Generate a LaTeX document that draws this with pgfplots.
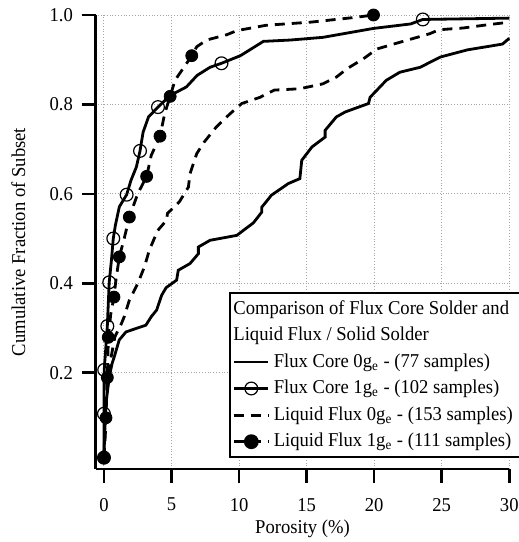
\documentclass[border=0pt]{standalone}
\usepackage{fontspec}
\setmainfont{Liberation Serif}[FakeStretch=0.95]
\usepackage{pgfplots}
\pgfplotsset{compat=1.18}
\begin{document}
\begin{tikzpicture}
\begin{axis}[
  scale only axis, width=206.8pt, height=227pt,
  xmin=-0.61, xmax=30, ymin=-0.0156, ymax=1.0,
  axis lines*=left,
  axis line style={line width=1.3pt, -},
  xtick={0,5,...,30}, ytick={0.2,0.4,0.6,0.8,1.0},
  tick align=outside, major tick length=7pt,
  tick style={line width=1.3pt, black},
  grid=major, grid style={densely dotted, black!35, line width=0.5pt},
  yticklabel style={xshift=-0.9pt, /pgf/number format/.cd, fixed, fixed zerofill, precision=1},
  /pgf/number format/assume math mode=true,
  ticklabel style={font=\fontsize{9.8}{11.8}\selectfont},
  xticklabel style={yshift=-4pt},
  label style={font=\fontsize{9.8}{11.8}\selectfont},
  xlabel={Porosity (\%)},
  ylabel={Cumulative Fraction of Subset},
  xlabel style={at={(axis description cs:0.5,-0.132)}, anchor=center},
  ylabel style={at={(axis description cs:-0.187,0.5)}, anchor=center},
  clip=false,
  legend style={at={(rel axis cs:1,0)}, anchor=south east, xshift=5.85pt, yshift=5.4pt,
    draw=black, line width=1.2pt, row sep=1pt,
    font=\fontsize{9.8}{11.8}\selectfont, inner sep=1.5pt},
  legend cell align=left,
]
% Flux Core 0g_e
\addplot[forget plot, black, line width=1.4pt] coordinates {
(0.0,0.013) (0.1,0.1) (0.15,0.13) (0.39,0.19) (0.6,0.22) (0.76,0.235) (1.13,0.273) (1.63,0.291) (2.5,0.30) (3.1,0.306) (3.5,0.325) (3.9,0.34) (4.27,0.373) (4.6,0.39) (5.38,0.407) (5.5,0.429) (6.37,0.444) (6.99,0.466) (6.99,0.481) (7.85,0.496) (9.83,0.507) (11.06,0.535) (11.68,0.559) (11.68,0.57) (12.4,0.597) (13.65,0.623) (14.5,0.634) (14.64,0.675) (15.4,0.705) (16.37,0.727) (16.37,0.742) (17.2,0.772) (17.85,0.783) (19.58,0.802) (19.7,0.816) (20.9,0.854) (21.9,0.872) (23.4,0.883) (24.9,0.906) (26.9,0.922) (29.5,0.935) (30,0.948)
};
% Flux Core 1g_e line
\addplot[forget plot, black, line width=1.4pt] coordinates {
(0,0.01) (0,0.108) (0.02,0.206) (0.15,0.26) (0.25,0.304) (0.39,0.402) (0.55,0.45) (0.69,0.5) (0.85,0.53) (1.14,0.571) (1.68,0.598) (2.0,0.63) (2.4,0.66) (2.67,0.696) (2.9,0.738) (3.3,0.772) (4.0,0.794) (4.9,0.82) (6.1,0.839) (6.9,0.865) (7.85,0.883) (8.7,0.892) (10.1,0.909) (11.8,0.941) (13.8,0.944) (16.2,0.95) (19.95,0.97) (22.7,0.98) (23.6,0.99) (30,0.993)
};
\addplot[forget plot, only marks, mark=o, mark size=3.2pt, mark options={line width=0.6pt}] coordinates {
(0,0.0098) (0,0.108) (0.02,0.206) (0.25,0.304) (0.39,0.402) (0.69,0.5) (1.68,0.598) (2.67,0.696) (4.0,0.794) (8.7,0.892) (23.6,0.99)
};
% Liquid Flux 0g_e
\addplot[forget plot, black, line width=1.4pt, dash pattern=on 5pt off 3.5pt] coordinates {
(0,0.0065) (0.07,0.065) (0.2,0.146) (0.44,0.22) (0.81,0.28) (1.3,0.31) (1.5,0.325) (1.88,0.362) (2.5,0.399) (2.99,0.436) (3.36,0.474) (3.98,0.518) (4.64,0.541) (4.7,0.556) (5.58,0.582) (6.25,0.615) (6.37,0.645) (6.87,0.69) (7.4,0.715) (8.3,0.749) (9.33,0.779) (10.2,0.802) (11.56,0.816) (12.6,0.832) (14.5,0.835) (16.2,0.846) (17.2,0.861) (18.0,0.88) (19.2,0.902) (20.2,0.924) (21.9,0.939) (24.1,0.958) (24.8,0.967) (26.6,0.971) (28.1,0.977) (30,0.984)
};
% Liquid Flux 1g_e
\addplot[forget plot, black, line width=1.4pt, dash pattern=on 5pt off 3.5pt] coordinates {
(0,0.009) (0.1,0.06) (0.15,0.099) (0.2,0.15) (0.25,0.189) (0.3,0.24) (0.32,0.279) (0.5,0.33) (0.74,0.369) (0.9,0.41) (1.14,0.459) (1.5,0.5) (1.88,0.548) (2.5,0.6) (3.16,0.639) (3.5,0.686) (4.15,0.729) (4.5,0.78) (4.9,0.818) (5.26,0.854) (6.1,0.891) (6.5,0.909) (6.87,0.929) (7.6,0.944) (9.1,0.956) (9.83,0.965) (12.0,0.977) (15.3,0.984) (18.7,0.995) (19.95,1.0)
};
\addplot[forget plot, only marks, mark=*, mark size=3pt, mark options={black}] coordinates {
(0,0.009) (0.15,0.099) (0.25,0.189) (0.32,0.279) (0.74,0.369) (1.14,0.459) (1.88,0.548) (3.16,0.639) (4.15,0.729) (4.9,0.818) (6.5,0.909) (19.95,1.0)
};
\addlegendimage{empty legend}
\addlegendentry{\hspace{-20.2pt}Comparison of Flux Core Solder and}
\addlegendimage{empty legend}
\addlegendentry{\hspace{-20.2pt}Liquid Flux / Solid Solder}
\addlegendimage{black, line width=1.4pt}
\addlegendentry{Flux Core 0g\textsubscript{e} - (77 samples)}
\addlegendimage{black, line width=1.4pt, mark=o, mark size=3.2pt, mark options={line width=0.6pt}}
\addlegendentry{Flux Core 1g\textsubscript{e} - (102 samples)}
\addlegendimage{black, line width=1.4pt, dash pattern=on 5pt off 3.5pt}
\addlegendentry{Liquid Flux 0g\textsubscript{e} - (153 samples)}
\addlegendimage{black, line width=1.4pt, dash pattern=on 5pt off 3.5pt, mark=*, mark size=3pt, mark options={solid}}
\addlegendentry{Liquid Flux 1g\textsubscript{e} - (111 samples)}
\end{axis}
\pgfresetboundingbox
\path (current axis.south west) ++(-47.85pt,-36.5pt) rectangle ++(259.5pt,271pt);
\end{tikzpicture}
\end{document}
